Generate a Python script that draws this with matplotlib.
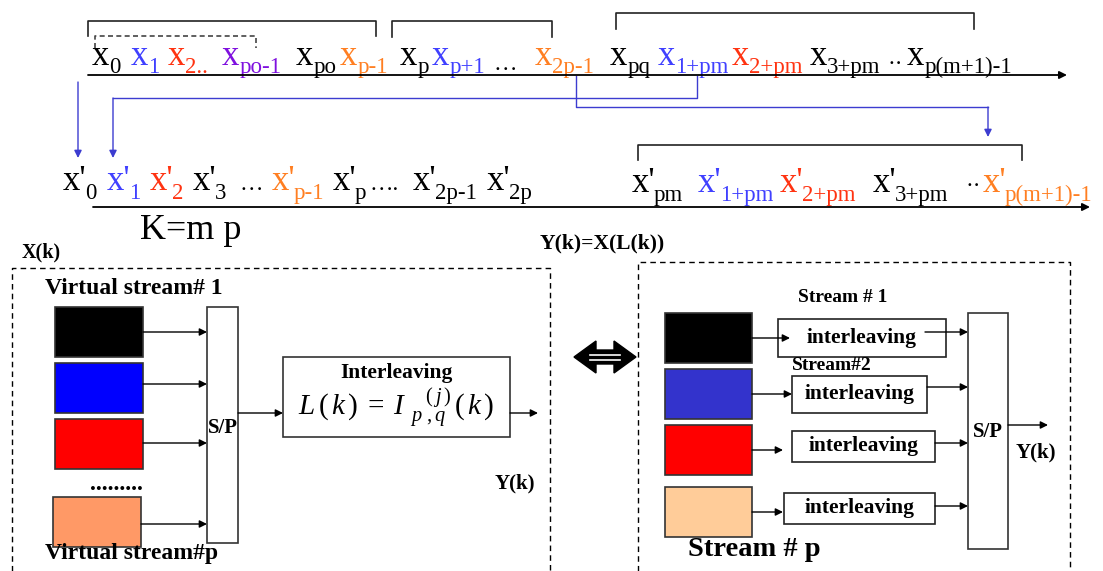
import matplotlib
matplotlib.use("Agg")
from matplotlib import pyplot as plt
from matplotlib.patches import Rectangle, Polygon

plt.rcParams["font.family"] = ["Liberation Serif", "DejaVu Serif"]
plt.rcParams["mathtext.fontset"] = "custom"
plt.rcParams["mathtext.rm"] = "Liberation Serif"
plt.rcParams["mathtext.it"] = "Liberation Serif:italic"

BLACK = "#000000"
BLUE = "#4040ff"
RED = "#ff3311"
ORANGE = "#ff7f22"
PURPLE = "#7f10df"
LINK = "#3c3cd0"

# input sequence (top row)
top_subs = ["0", "1", "2..", "po-1", "po", "p-1", "p", "p+1", "2p-1",
            "pq", "1+pm", "2+pm", "3+pm", "p(m+1)-1"]
top_colors = [BLACK, BLUE, RED, PURPLE, BLACK, ORANGE, BLACK, BLUE, ORANGE,
              BLACK, BLUE, RED, BLACK, BLACK]
top_x = [92, 131, 168, 222, 296, 340, 400, 432, 535,
         610, 658, 732, 810, 907]
top_dots = [("\u2026", 493), ("\u00b7\u00b7", 888)]

# interleaved sequence (second row)
bot_subs = ["0", "1", "2", "3", "p-1", "p", "2p-1", "2p",
            "pm", "1+pm", "2+pm", "3+pm", "p(m+1)-1"]
bot_colors = [BLACK, BLUE, RED, BLACK, ORANGE, BLACK, BLACK, BLACK,
              BLACK, BLUE, RED, BLACK, ORANGE]
bot_x = [63, 107, 150, 193, 272, 333, 413, 487,
         632, 698, 780, 873, 983]
bot_dots = [("\u2026", 240), ("\u2026.", 370), ("\u00b7\u00b7", 966)]

# streams
left_colors = ["#000000", "#0000ff", "#ff0000", "#ff9966"]
right_colors = ["#000000", "#3333cc", "#ff0000", "#ffcc99"]

fig = plt.figure(figsize=(11.03, 5.71), dpi=100)
ax = fig.add_axes([0, 0, 1, 1])
ax.set_xlim(0, 1103)
ax.set_ylim(571, 0)
ax.axis("off")
fig.canvas.draw()
renderer = fig.canvas.get_renderer()
inv = ax.transData.inverted()


def seq_item(x, y, main, sub, color, size=25, subsize=16.5, drop=8, gap=0):
    t = ax.text(x, y, main, color=color, fontsize=size, ha="left", va="baseline")
    bb = t.get_window_extent(renderer)
    x2 = inv.transform((bb.x1, bb.y0))[0]
    ax.text(x2 + gap, y + drop, sub, color=color, fontsize=subsize,
            ha="left", va="baseline")


def arrow(x0, y0, x1, y1, color=BLACK, lw=1.0, ms=11):
    ax.annotate("", xy=(x1, y1), xytext=(x0, y0),
                arrowprops=dict(arrowstyle="-|>", color=color, lw=lw,
                                mutation_scale=ms, shrinkA=0, shrinkB=0))


def bracket(x0, x1, yt, yb, ls="-", color="#222222"):
    ax.plot([x0, x0, x1, x1], [yb, yt, yt, yb], color=color, lw=1.2, ls=ls)


# ---- top row
for s, c, x in zip(top_subs, top_colors, top_x):
    seq_item(x, 65, "x", s, c)
for d, x in top_dots:
    ax.text(x, 70, d, fontsize=17, ha="left", va="baseline")
arrow(88, 75, 1067, 75, lw=1.3)
bracket(88, 376, 21, 36)
bracket(392, 552, 21, 37)
bracket(616, 974, 13, 29)
bracket(95, 256, 36, 48, ls=(0, (3, 2)), color="#444444")

# ---- connectors
arrow(78, 82, 78, 158, color=LINK)
ax.plot([697, 697, 113], [76, 98, 98], color=LINK, lw=1.0)
arrow(113, 98, 113, 158, color=LINK)
ax.plot([576, 576, 988], [76, 107, 107], color=LINK, lw=1.0)
arrow(988, 107, 988, 137, color=LINK)

# ---- second row
for s, c, x in zip(bot_subs, bot_colors, bot_x):
    yb = 190 if x < 600 else 192
    seq_item(x, yb, "x'", s, c, drop=9, gap=-2)
for d, x in bot_dots:
    ax.text(x, 190 if x < 600 else 192, d, fontsize=17, color=BLACK,
            ha="left", va="baseline")
arrow(93, 207, 1090, 207, lw=1.3)
bracket(638, 1022, 145, 160)
ax.text(140, 239, "K=m p", fontsize=26, ha="left", va="baseline")

# ---- left block
ax.text(22, 252, "X(k)", fontsize=14.5, fontweight="bold", va="center")
ax.plot([12, 12, 550, 550], [571, 268, 268, 571], color=BLACK, lw=1.0,
        ls=(0, (4, 3)))
ax.text(45, 289, "Virtual stream# 1", fontsize=17, fontweight="bold", va="center")
left_rows = [(307, 357, 332), (363, 413, 384), (419, 469, 443), (497, 547, 524)]
for (y0, y1, ya), col in zip(left_rows, left_colors):
    x0 = 53 if col == left_colors[-1] else 55
    ax.add_patch(Rectangle((x0, y0), 88, y1 - y0, facecolor=col,
                           edgecolor="#333333", lw=1.2))
    arrow(x0 + 88, ya, 207, ya)
ax.text(90, 490, ".........", fontsize=17, fontweight="bold", va="baseline")
ax.text(45, 553, "Virtual stream#p", fontsize=17, fontweight="bold", va="center")
ax.add_patch(Rectangle((207, 307), 31, 236, facecolor="white",
                       edgecolor="#333333", lw=1.2))
ax.text(222.5, 428, "S/P", fontsize=15, fontweight="bold", ha="center", va="center")
arrow(238, 413, 283, 413)
ax.add_patch(Rectangle((283, 357), 227, 80, facecolor="white",
                       edgecolor="#333333", lw=1.2))
ax.text(396, 373, "Interleaving", fontsize=15.5, fontweight="bold",
        ha="center", va="center")
ax.text(396, 408, r"$L\,(\,k\,)\;=\;I_{\;\;p\;,q}^{\;\;\;\;\;(\,j\,)}\,(\,k\,)$",
        fontsize=21, ha="center", va="center")
arrow(510, 413, 538, 413)
ax.text(515, 483, "Y(k)", fontsize=15, fontweight="bold", ha="center", va="center")

# ---- equivalence arrow
ax.text(540, 243, "Y(k)=X(L(k))", fontsize=15.5, fontweight="bold", va="center")
ax.add_patch(Polygon([(574, 357), (596, 341), (596, 350), (614, 350), (614, 341),
                      (636, 357), (614, 373), (614, 364), (596, 364), (596, 373)],
                     closed=True, facecolor=BLACK, edgecolor=BLACK))
ax.plot([590, 620], [354.5, 354.5], color="white", lw=1.2)
ax.plot([590, 620], [359.5, 359.5], color="white", lw=1.2)

# ---- right block
ax.plot([638, 638, 1070, 1070], [571, 262, 262, 571], color=BLACK, lw=1.0,
        ls=(0, (4, 3)))
ax.text(798, 298, "Stream # 1", fontsize=14, fontweight="bold", va="center")
ax.text(792, 366, "Stream#2", fontsize=14, fontweight="bold", va="center")
ax.text(688, 549, "Stream # p", fontsize=20.5, fontweight="bold", va="center")
right_rows = [(313, 363), (369, 419), (425, 475), (487, 537)]
ibox = [(778, 946, 319, 357), (792, 927, 376, 413), (792, 935, 431, 462),
        (784, 935, 493, 524)]
in_arrow = [(338, 790), (394, 792), (450, 783), (512, 783)]
out_arrow = [(925, 332), (927, 387), (935, 443), (935, 506)]
for (y0, y1), col, (bx0, bx1, by0, by1), (ya, xa), (xo, yo) in zip(
        right_rows, right_colors, ibox, in_arrow, out_arrow):
    ax.add_patch(Rectangle((665, y0), 87, y1 - y0, facecolor=col,
                           edgecolor="#333333", lw=1.2))
    ax.add_patch(Rectangle((bx0, by0), bx1 - bx0, by1 - by0, facecolor="none",
                           edgecolor="#222222", lw=1.2))
    ax.text((bx0 + bx1) / 2 if bx0 != 778 else 862, (by0 + by1) / 2,
            "interleaving", fontsize=15.5, fontweight="bold",
            ha="center", va="center")
    arrow(752, ya, xa, ya)
    arrow(xo, yo, 968, yo)
ax.add_patch(Rectangle((968, 313), 40, 236, facecolor="white",
                       edgecolor="#333333", lw=1.2))
ax.text(988, 432, "S/P", fontsize=15, fontweight="bold", ha="center", va="center")
arrow(1008, 425, 1048, 425)
ax.text(1036, 452, "Y(k)", fontsize=15, fontweight="bold", ha="center", va="center")

fig.savefig("out.png", dpi=100)
